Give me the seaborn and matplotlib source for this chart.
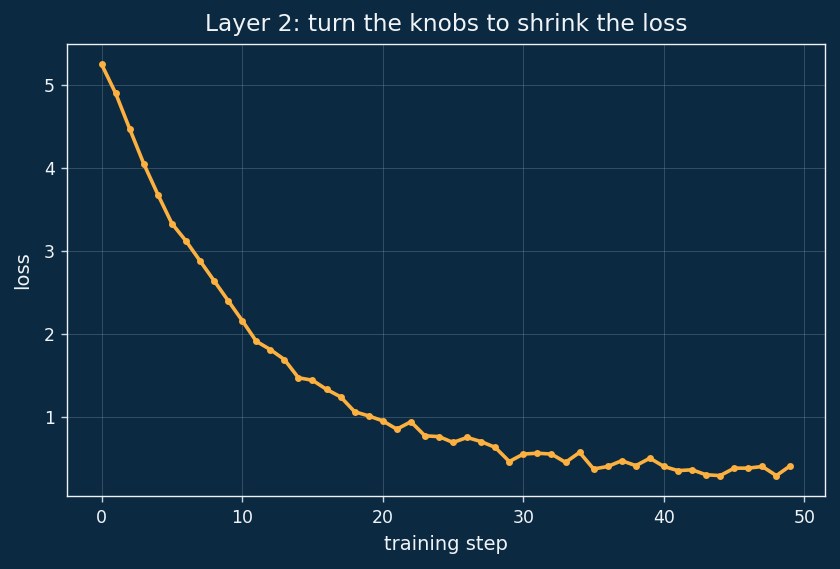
import matplotlib
matplotlib.use("Agg")
import matplotlib.pyplot as plt
import seaborn as sns
import pandas as pd

steps = list(range(50))
loss = [5.25, 4.90, 4.47, 4.05, 3.68, 3.33, 3.12, 2.88, 2.64, 2.40,
        2.16, 1.91, 1.81, 1.69, 1.47, 1.44, 1.33, 1.24, 1.06, 1.01,
        0.95, 0.85, 0.94, 0.77, 0.76, 0.69, 0.75, 0.70, 0.63, 0.46,
        0.55, 0.56, 0.55, 0.45, 0.57, 0.37, 0.40, 0.47, 0.41, 0.50,
        0.40, 0.35, 0.36, 0.30, 0.29, 0.38, 0.38, 0.40, 0.29, 0.41]

df = pd.DataFrame({"step": steps, "loss": loss})

bg = "#0b2940"
fg = "#f0f4f8"
line_color = "#fbb040"

sns.set_theme(style="darkgrid")
plt.rcParams["font.family"] = ["DejaVu Sans"]

fig, ax = plt.subplots(figsize=(8.4, 5.69), dpi=100)
fig.patch.set_facecolor(bg)
ax.set_facecolor(bg)

sns.lineplot(data=df, x="step", y="loss", ax=ax, color=line_color,
             linewidth=2.6, marker="o", markersize=5,
             markeredgewidth=0, markerfacecolor=line_color)

ax.grid(True, color="#8aa4bb", alpha=0.35, linewidth=0.6)
for s in ax.spines.values():
    s.set_visible(True)
    s.set_color(fg)
    s.set_linewidth(1.0)

ax.tick_params(colors="#c8d6e3", labelcolor=fg, labelsize=12.5, length=4.5,
               width=1, pad=4.5, bottom=True, left=True)
ax.set_xlabel("training step", color=fg, fontsize=14, labelpad=6)
ax.set_ylabel("loss", color=fg, fontsize=14, labelpad=8)
ax.set_title("Layer 2: turn the knobs to shrink the loss", color=fg,
             fontsize=16.8, pad=9)
ax.set_xticks([0, 10, 20, 30, 40, 50])
ax.set_yticks([1, 2, 3, 4, 5])

fig.subplots_adjust(left=0.08, right=0.982, top=0.923, bottom=0.128)
fig.savefig("out.png", dpi=100, facecolor=bg)
